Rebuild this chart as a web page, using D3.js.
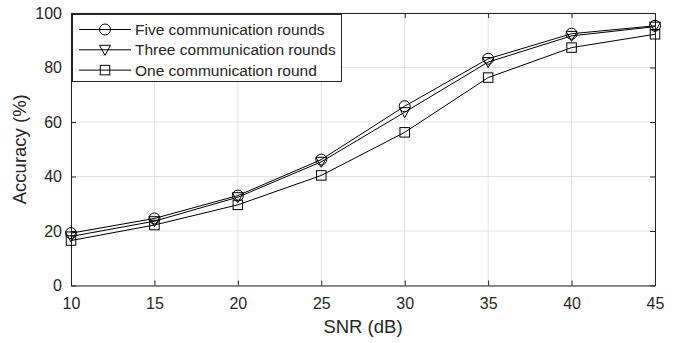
<!DOCTYPE html>
<html>
<head>
<meta charset="utf-8">
<script src="https://cdn.jsdelivr.net/npm/d3@7"></script>
<style>
  body { margin: 0; background: #fff; }
  text { font-family: "Liberation Sans", Arial, sans-serif; fill: #262626; }
</style>
</head>
<body>
<div id="chart"></div>
<script>
// data
const snr = [10, 15, 20, 25, 30, 35, 40, 45];
const fiveRounds = [19.2, 24.6, 33.0, 46.2, 65.8, 83.2, 92.4, 95.3];
const threeRounds = [18.0, 23.6, 32.4, 45.4, 63.6, 82.0, 91.6, 95.0];
const oneRound = [16.5, 22.2, 29.6, 40.4, 56.2, 76.3, 87.3, 92.2];
const xTicks = [10, 15, 20, 25, 30, 35, 40, 45];
const yTicks = [0, 20, 40, 60, 80, 100];
const seriesNames = ["Five communication rounds", "Three communication rounds", "One communication round"];

const width = 678, height = 343;
const margin = { top: 13, right: 23, bottom: 57.5, left: 71 };
const axisColor = "#262626";

const svg = d3.select("#chart").append("svg")
  .attr("width", width)
  .attr("height", height);

const x = d3.scaleLinear().domain([10, 45]).range([margin.left, width - margin.right]);
const y = d3.scaleLinear().domain([0, 100]).range([height - margin.bottom, margin.top]);

// grid
svg.append("g").selectAll("line")
  .data(xTicks)
  .join("line")
  .attr("x1", d => x(d)).attr("x2", d => x(d))
  .attr("y1", y(0)).attr("y2", y(100))
  .attr("stroke", "#e3e3e3").attr("stroke-width", 1);
svg.append("g").selectAll("line")
  .data(yTicks)
  .join("line")
  .attr("x1", x(10)).attr("x2", x(45))
  .attr("y1", d => y(d)).attr("y2", d => y(d))
  .attr("stroke", "#e3e3e3").attr("stroke-width", 1);

// axes (ticks pointing inwards like MATLAB)
const xAxis = svg.append("g")
  .attr("transform", `translate(0,${y(0)})`)
  .call(d3.axisBottom(x).tickValues(xTicks).tickSizeInner(-5).tickSizeOuter(0).tickPadding(12));
const yAxis = svg.append("g")
  .attr("transform", `translate(${x(10)},0)`)
  .call(d3.axisLeft(y).tickValues(yTicks).tickSizeInner(-5).tickSizeOuter(0).tickPadding(9));
const xTop = svg.append("g")
  .attr("transform", `translate(0,${y(100)})`)
  .call(d3.axisTop(x).tickValues(xTicks).tickSizeInner(-5).tickSizeOuter(0).tickFormat(""));
const yRight = svg.append("g")
  .attr("transform", `translate(${x(45)},0)`)
  .call(d3.axisRight(y).tickValues(yTicks).tickSizeInner(-5).tickSizeOuter(0).tickFormat(""));

[xAxis, yAxis, xTop, yRight].forEach(a => {
  a.selectAll("path").attr("stroke", axisColor).attr("stroke-width", 1);
  a.selectAll("line").attr("stroke", axisColor);
  a.selectAll("text").style("font-size", "16px").attr("fill", axisColor)
    .style("font-family", "'Liberation Sans', Arial, sans-serif");
});

// axis titles
svg.append("text")
  .attr("x", (x(10) + x(45)) / 2)
  .attr("y", 333)
  .attr("text-anchor", "middle")
  .style("font-size", "18.5px")
  .text("SNR (dB)");
svg.append("text")
  .attr("transform", `translate(26,${(y(0) + y(100)) / 2}) rotate(-90)`)
  .attr("text-anchor", "middle")
  .style("font-size", "18.5px")
  .text("Accuracy (%)");

// markers
function drawMarker(sel, kind) {
  if (kind === "circle") {
    sel.append("circle").attr("r", 5.5)
      .attr("fill", "none").attr("stroke", "#000").attr("stroke-width", 1);
  } else if (kind === "triangle") {
    sel.append("path").attr("d", "M-5.5,-4.5L5.5,-4.5L0,5.5Z")
      .attr("fill", "none").attr("stroke", "#000").attr("stroke-width", 1);
  } else {
    sel.append("rect").attr("x", -4.75).attr("y", -4.75).attr("width", 9.5).attr("height", 9.5)
      .attr("fill", "none").attr("stroke", "#000").attr("stroke-width", 1);
  }
}

const series = [
  { name: seriesNames[0], values: fiveRounds, marker: "circle" },
  { name: seriesNames[1], values: threeRounds, marker: "triangle" },
  { name: seriesNames[2], values: oneRound, marker: "square" }
];

const line = d3.line().x((d, i) => x(snr[i])).y(d => y(d));

series.forEach(s => {
  svg.append("path")
    .attr("d", line(s.values))
    .attr("fill", "none")
    .attr("stroke", "#000")
    .attr("stroke-width", 1);
  svg.append("g").selectAll("g")
    .data(s.values)
    .join("g")
    .attr("transform", (d, i) => `translate(${x(snr[i])},${y(d)})`)
    .each(function () { drawMarker(d3.select(this), s.marker); });
});

// legend
const legend = svg.append("g").attr("transform", "translate(72.5,14.5)");
legend.append("rect")
  .attr("width", 269).attr("height", 67)
  .attr("fill", "#fff").attr("stroke", axisColor).attr("stroke-width", 1);
series.forEach((s, i) => {
  const row = legend.append("g").attr("transform", `translate(0,${15 + i * 20.3})`);
  row.append("line").attr("x1", 6.5).attr("x2", 58.5)
    .attr("stroke", "#000").attr("stroke-width", 1);
  const m = row.append("g").attr("transform", "translate(32.5,0)");
  drawMarker(m, s.marker);
  row.append("text").attr("x", 62.5).attr("y", 5.5)
    .style("font-size", "15.5px").attr("fill", "#000")
    .text(s.name);
});
</script>
</body>
</html>
